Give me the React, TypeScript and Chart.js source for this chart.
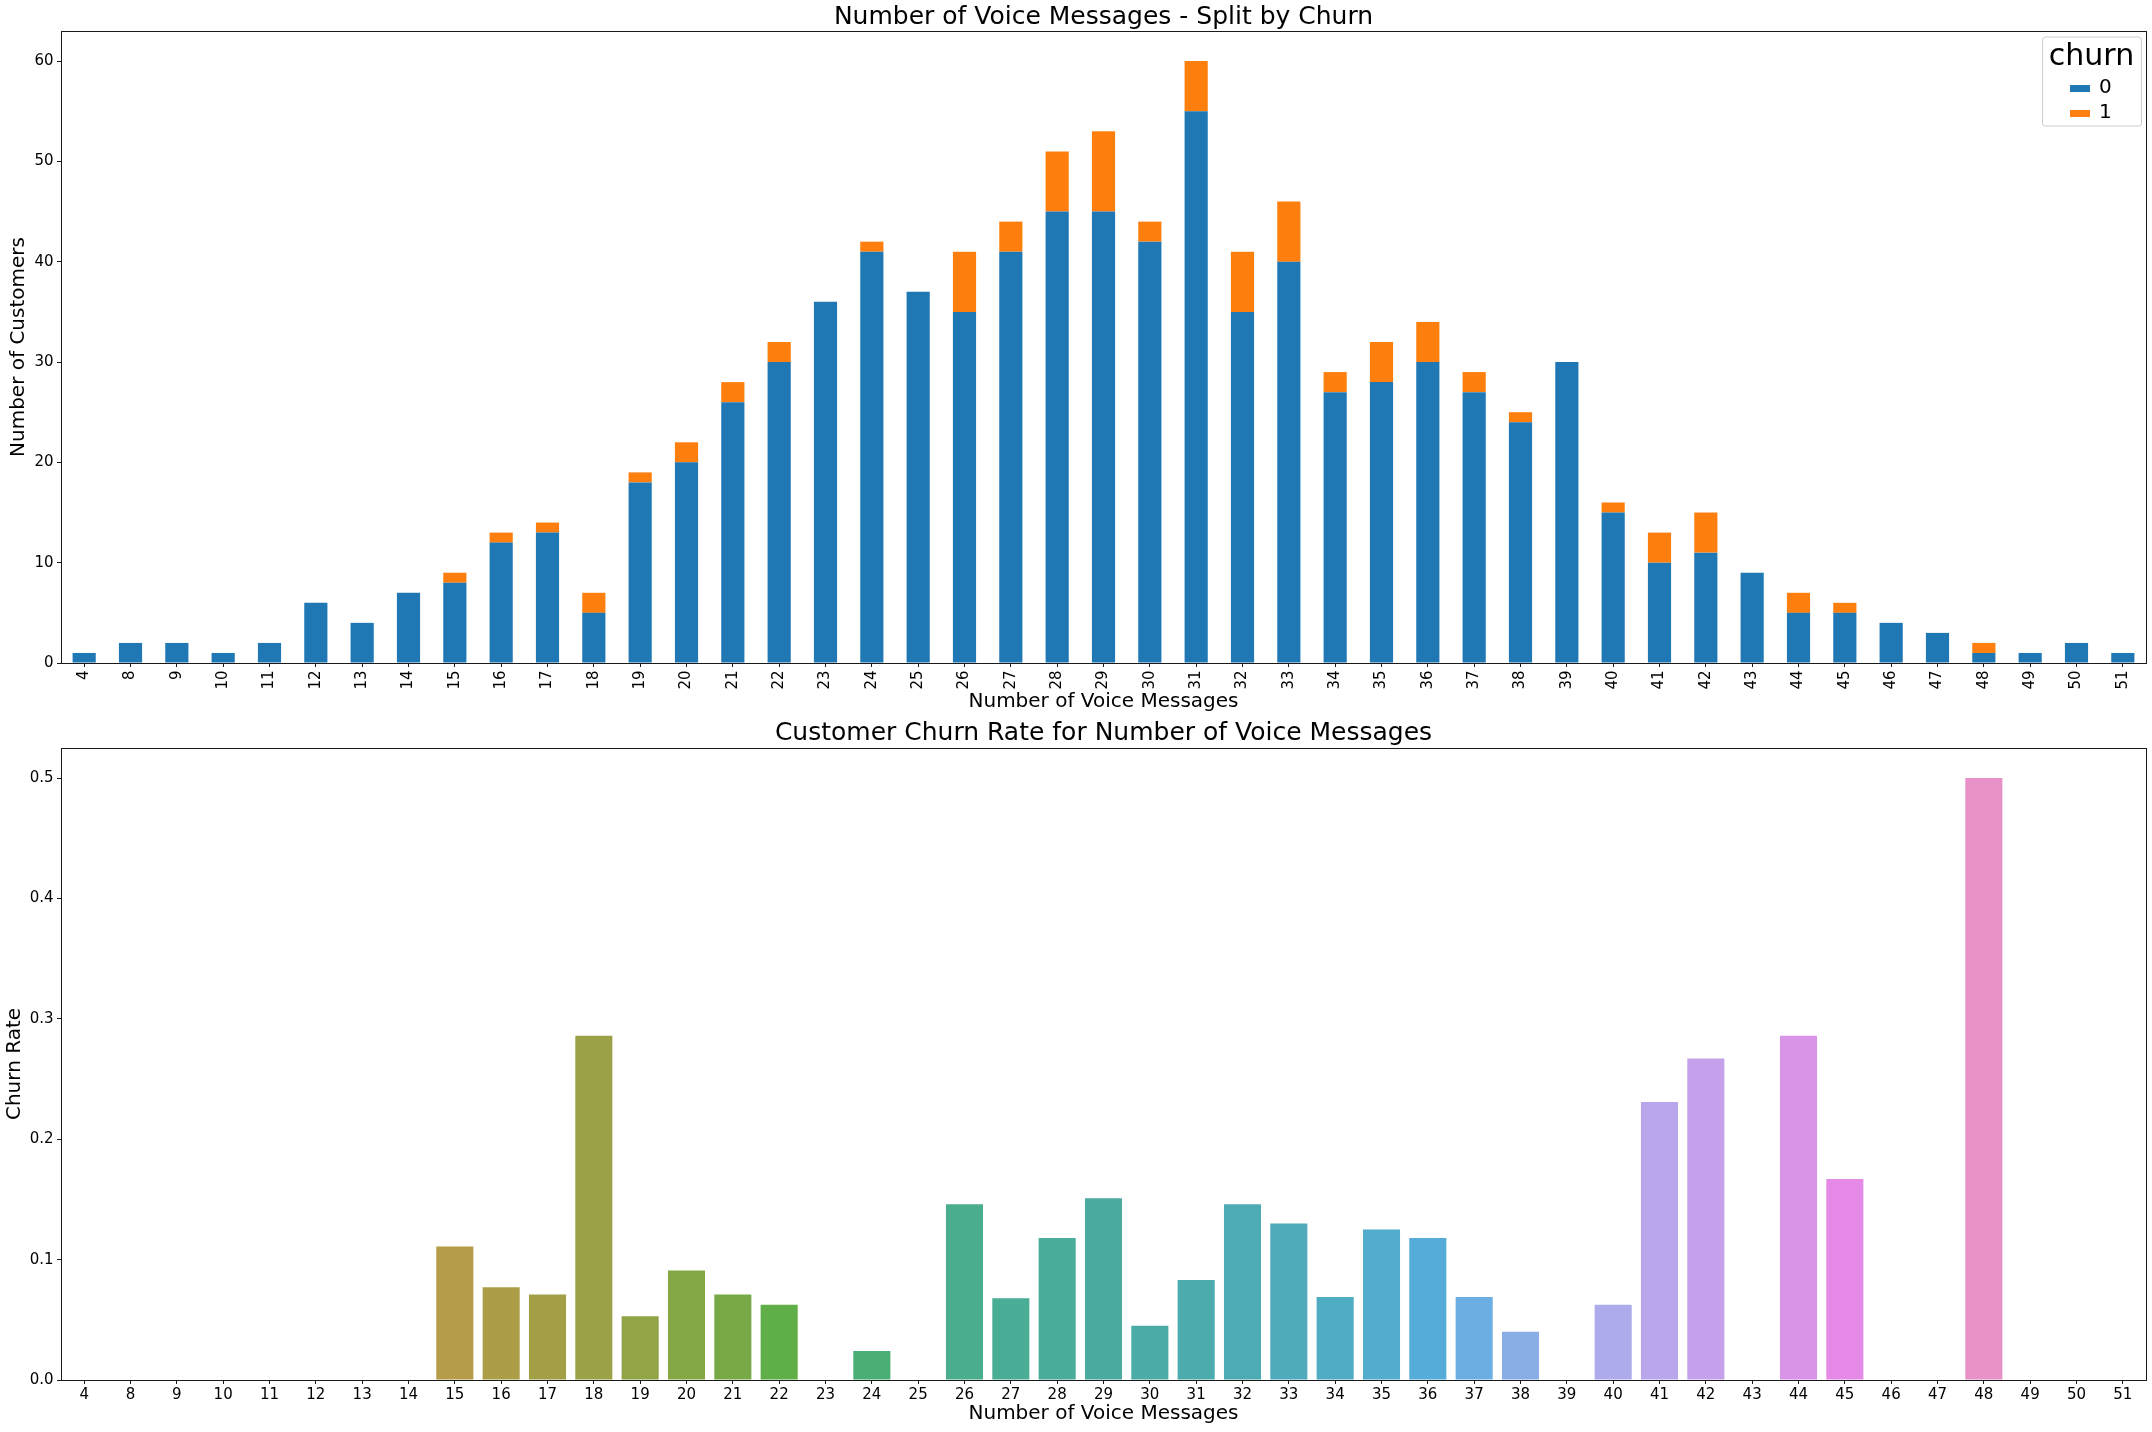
import React, { useEffect, useRef } from "react";
import { Chart, registerables } from "chart.js";

Chart.register(...registerables);

// ---------------- DATA ----------------
const categories = [
  "4", "8", "9", "10", "11", "12", "13", "14", "15", "16", "17", "18", "19", "20", "21",
  "22", "23", "24", "25", "26", "27", "28", "29", "30", "31", "32", "33", "34", "35", "36",
  "37", "38", "39", "40", "41", "42", "43", "44", "45", "46", "47", "48", "49", "50", "51",
];

const churn0 = [
  1, 2, 2, 1, 2, 6, 4, 7, 8, 12, 13, 5, 18, 20, 26,
  30, 36, 41, 37, 35, 41, 45, 45, 42, 55, 35, 40, 27, 28, 30,
  27, 24, 30, 15, 10, 11, 9, 5, 5, 4, 3, 1, 1, 2, 1,
];

const churn1 = [
  0, 0, 0, 0, 0, 0, 0, 0, 1, 1, 1, 2, 1, 2, 2,
  2, 0, 1, 0, 6, 3, 6, 8, 2, 5, 6, 6, 2, 4, 4,
  2, 1, 0, 1, 3, 4, 0, 2, 1, 0, 0, 1, 0, 0, 0,
];

const churnRate = [
  0, 0, 0, 0, 0, 0, 0, 0, 0.111, 0.077, 0.071, 0.286, 0.053, 0.091, 0.071,
  0.0625, 0, 0.024, 0, 0.146, 0.068, 0.118, 0.151, 0.045, 0.083, 0.146, 0.13, 0.069, 0.125, 0.118,
  0.069, 0.04, 0, 0.0625, 0.231, 0.267, 0, 0.286, 0.167, 0, 0, 0.5, 0, 0, 0,
];

const legendLabels = ["0", "1"];
const seriesColors = ["#1f77b4", "#ff7f0e"];

const FONT = "'DejaVu Sans', sans-serif";
const TICK_SIZE = 15;
const LABEL_SIZE = 20;
const TITLE_SIZE = 25;

// ---------------- PALETTE (seaborn husl + desaturation) ----------------
const M = [
  [3.2406, -1.5372, -0.4986],
  [-0.9689, 1.8758, 0.0415],
  [0.0557, -0.204, 1.057],
];

function maxChroma(L: number, H: number) {
  const hrad = (H * Math.PI) / 180;
  const sinH = Math.sin(hrad);
  const cosH = Math.cos(hrad);
  const sub1 = Math.pow(L + 16, 3) / 1560896.0;
  const sub2 = sub1 > 0.008856 ? sub1 : L / 903.3;
  let result = Infinity;
  for (const row of M) {
    const [m1, m2, m3] = row;
    const top = (0.99915 * m1 + 1.05122 * m2 + 1.1446 * m3) * sub2;
    const rbottom = 0.8633 * m3 - 0.17266 * m2;
    const lbottom = 0.12949 * m3 - 0.38848 * m1;
    const bottom = (rbottom * sinH + lbottom * cosH) * sub2;
    for (const t of [0, 1]) {
      const C = (L * (top - 1.05122 * t)) / (bottom + 0.17266 * sinH * t);
      if (C > 0 && C < result) result = C;
    }
  }
  return result;
}

function fromLinear(c: number) {
  return c <= 0.0031308 ? 12.92 * c : 1.055 * Math.pow(c, 1 / 2.4) - 0.055;
}

function huslToRgb(h: number, s: number, l: number): number[] {
  const C = (maxChroma(l, h) / 100) * s;
  const hr = (h * Math.PI) / 180;
  const U = Math.cos(hr) * C;
  const V = Math.sin(hr) * C;
  const t = (l + 16) / 116;
  const varY = Math.pow(t, 3) > 0.008856 ? Math.pow(t, 3) : (116 * t - 16) / 903.3;
  const varU = U / (13 * l) + 0.19784;
  const varV = V / (13 * l) + 0.46834;
  const Y = varY;
  const X = -(9 * Y * varU) / ((varU - 4) * varV - varU * varV);
  const Z = (9 * Y - 15 * varV * Y - varV * X) / (3 * varV);
  return M.map((r) => Math.min(1, Math.max(0, fromLinear(r[0] * X + r[1] * Y + r[2] * Z))));
}

function rgbToHls(r: number, g: number, b: number) {
  const maxc = Math.max(r, g, b);
  const minc = Math.min(r, g, b);
  const l = (minc + maxc) / 2;
  if (minc === maxc) return [0, l, 0];
  const s = l <= 0.5 ? (maxc - minc) / (maxc + minc) : (maxc - minc) / (2 - maxc - minc);
  const rc = (maxc - r) / (maxc - minc);
  const gc = (maxc - g) / (maxc - minc);
  const bc = (maxc - b) / (maxc - minc);
  let h: number;
  if (r === maxc) h = bc - gc;
  else if (g === maxc) h = 2 + rc - bc;
  else h = 4 + gc - rc;
  h = (((h / 6) % 1) + 1) % 1;
  return [h, l, s];
}

function hv(m1: number, m2: number, hue: number) {
  hue = ((hue % 1) + 1) % 1;
  if (hue < 1 / 6) return m1 + (m2 - m1) * hue * 6;
  if (hue < 0.5) return m2;
  if (hue < 2 / 3) return m1 + (m2 - m1) * (2 / 3 - hue) * 6;
  return m1;
}

function hlsToRgb(h: number, l: number, s: number) {
  if (s === 0) return [l, l, l];
  const m2 = l <= 0.5 ? l * (1 + s) : l + s - l * s;
  const m1 = 2 * l - m2;
  return [hv(m1, m2, h + 1 / 3), hv(m1, m2, h), hv(m1, m2, h - 1 / 3)];
}

function seabornColors(n: number) {
  const out: string[] = [];
  for (let i = 0; i < n; i++) {
    const hue = ((i / n + 0.01) % 1) * 359;
    const rgb = huslToRgb(hue, 0.9 * 99, 0.7 * 99);
    const [h, l, s] = rgbToHls(rgb[0], rgb[1], rgb[2]);
    const d = hlsToRgb(h, l, s * 0.75);
    out.push(
      "#" + d.map((v) => Math.round(Math.min(1, Math.max(0, v)) * 255).toString(16).padStart(2, "0")).join("")
    );
  }
  return out;
}

// ---------------- PLUGINS ----------------
const framePlugin = {
  id: "frame",
  afterDraw(chart: any) {
    const { ctx, chartArea } = chart;
    const l = Math.floor(chartArea.left);
    const t = Math.floor(chartArea.top);
    const r = Math.floor(chartArea.right);
    const b = Math.floor(chartArea.bottom);
    ctx.save();
    ctx.strokeStyle = "#1a1a1a";
    ctx.lineWidth = 1;
    ctx.strokeRect(l + 0.5, t + 0.5, r - l, b - t);
    ctx.restore();
  },
};

const legendPlugin = {
  id: "mplLegend",
  afterDraw(chart: any) {
    const { ctx, chartArea } = chart;
    const w = 99;
    const h = 89;
    const x0 = chartArea.right - 5 - w;
    const y0 = chartArea.top + 5.5;
    ctx.save();
    ctx.beginPath();
    (ctx as any).roundRect(x0 + 0.5, y0 + 0.5, w, h, 3);
    ctx.fillStyle = "rgba(255,255,255,0.8)";
    ctx.fill();
    ctx.strokeStyle = "#cccccc";
    ctx.lineWidth = 1;
    ctx.stroke();
    ctx.fillStyle = "#000";
    ctx.font = `30px ${FONT}`;
    ctx.textAlign = "center";
    ctx.textBaseline = "alphabetic";
    ctx.fillText("churn", x0 + w / 2, y0 + 28.5);
    ctx.textAlign = "left";
    ctx.font = `20px ${FONT}`;
    legendLabels.forEach((lab, i) => {
      const py = y0 + 48.5 + i * 25;
      ctx.fillStyle = seriesColors[i];
      ctx.fillRect(x0 + 28, py, 20, 7);
      ctx.fillStyle = "#000";
      ctx.fillText(lab, x0 + 57, py + 8);
    });
    ctx.restore();
  },
};

function gridOpts() {
  return {
    display: true,
    drawOnChartArea: false,
    drawTicks: true,
    tickLength: 4,
    color: "#1a1a1a",
    offset: false,
  };
}

export default function App() {
  const ref1 = useRef<HTMLCanvasElement>(null);
  const ref2 = useRef<HTMLCanvasElement>(null);

  useEffect(() => {
    Chart.defaults.font.family = FONT;
    Chart.defaults.color = "#000";
    const palette = seabornColors(categories.length);

    const c1 = new Chart(ref1.current!, {
      type: "bar",
      data: {
        labels: categories,
        datasets: [
          { label: legendLabels[0], data: churn0, backgroundColor: seriesColors[0], barPercentage: 0.5, categoryPercentage: 1 },
          { label: legendLabels[1], data: churn1, backgroundColor: seriesColors[1], barPercentage: 0.5, categoryPercentage: 1 },
        ],
      },
      options: {
        animation: false,
        responsive: false,
        devicePixelRatio: 1,
        layout: { padding: { left: 0, right: 6, top: 0, bottom: 0 } },
        plugins: {
          legend: { display: false },
          tooltip: { enabled: false },
          title: {
            display: true,
            fullSize: false,
            text: "Number of Voice Messages - Split by Churn",
            color: "#000",
            font: { size: TITLE_SIZE, weight: "normal", lineHeight: 1, family: FONT },
            padding: { top: 4.5, bottom: 1.5 },
          },
        },
        scales: {
          x: {
            stacked: true,
            grid: gridOpts(),
            border: { display: false },
            ticks: { autoSkip: false, minRotation: 90, maxRotation: 90, font: { size: TICK_SIZE }, color: "#000", padding: 3.5 },
            title: { display: true, text: "Number of Voice Messages", color: "#000", font: { size: LABEL_SIZE }, padding: { top: 0, bottom: 6.5 } },
            afterFit: (s: any) => { s.height = 57; },
          },
          y: {
            stacked: true,
            min: 0,
            max: 63,
            grid: gridOpts(),
            border: { display: false },
            ticks: { stepSize: 10, includeBounds: false, font: { size: TICK_SIZE }, color: "#000", padding: 3.5 },
            title: { display: true, text: "Number of Customers", color: "#000", font: { size: LABEL_SIZE }, padding: { top: 7, bottom: 0 } },
            afterFit: (s: any) => { s.width = 61; },
          },
        },
      } as any,
      plugins: [framePlugin, legendPlugin],
    });

    const c2 = new Chart(ref2.current!, {
      type: "bar",
      data: {
        labels: categories,
        datasets: [
          { label: "churn rate", data: churnRate, backgroundColor: palette, barPercentage: 0.8, categoryPercentage: 1 },
        ],
      },
      options: {
        animation: false,
        responsive: false,
        devicePixelRatio: 1,
        layout: { padding: { left: 0, right: 6, top: 0, bottom: 0 } },
        plugins: {
          legend: { display: false },
          tooltip: { enabled: false },
          title: {
            display: true,
            fullSize: false,
            text: "Customer Churn Rate for Number of Voice Messages",
            color: "#000",
            font: { size: TITLE_SIZE, weight: "normal", lineHeight: 1, family: FONT },
            padding: { top: 0.8, bottom: 2.2 },
          },
        },
        scales: {
          x: {
            grid: gridOpts(),
            border: { display: false },
            ticks: { autoSkip: false, minRotation: 0, maxRotation: 0, font: { size: TICK_SIZE }, color: "#000", padding: 2 },
            title: { display: true, text: "Number of Voice Messages", color: "#000", font: { size: LABEL_SIZE }, padding: { top: 0, bottom: 6.4 } },
            afterFit: (s: any) => { s.height = 52; },
          },
          y: {
            min: 0,
            max: 0.525,
            grid: gridOpts(),
            border: { display: false },
            ticks: {
              stepSize: 0.1,
              includeBounds: false,
              font: { size: TICK_SIZE },
              color: "#000",
              padding: 3.5,
              callback: (v: any) => Number(v).toFixed(1),
            },
            title: { display: true, text: "Churn Rate", color: "#000", font: { size: LABEL_SIZE }, padding: { top: 3, bottom: 0 } },
            afterFit: (s: any) => { s.width = 61; },
          },
        },
      } as any,
      plugins: [framePlugin],
    });

    return () => {
      c1.destroy();
      c2.destroy();
    };
  }, []);

  return (
    <div style={{ position: "absolute", left: 0, top: 0, width: 2152, height: 1432, background: "#fff" }}>
      <canvas
        ref={ref1}
        width={2152}
        height={720}
        style={{ position: "absolute", left: 0, top: 0, width: 2152, height: 720, display: "block" }}
      />
      <canvas
        ref={ref2}
        width={2152}
        height={712}
        style={{ position: "absolute", left: 0, top: 720, width: 2152, height: 712, display: "block" }}
      />
    </div>
  );
}
